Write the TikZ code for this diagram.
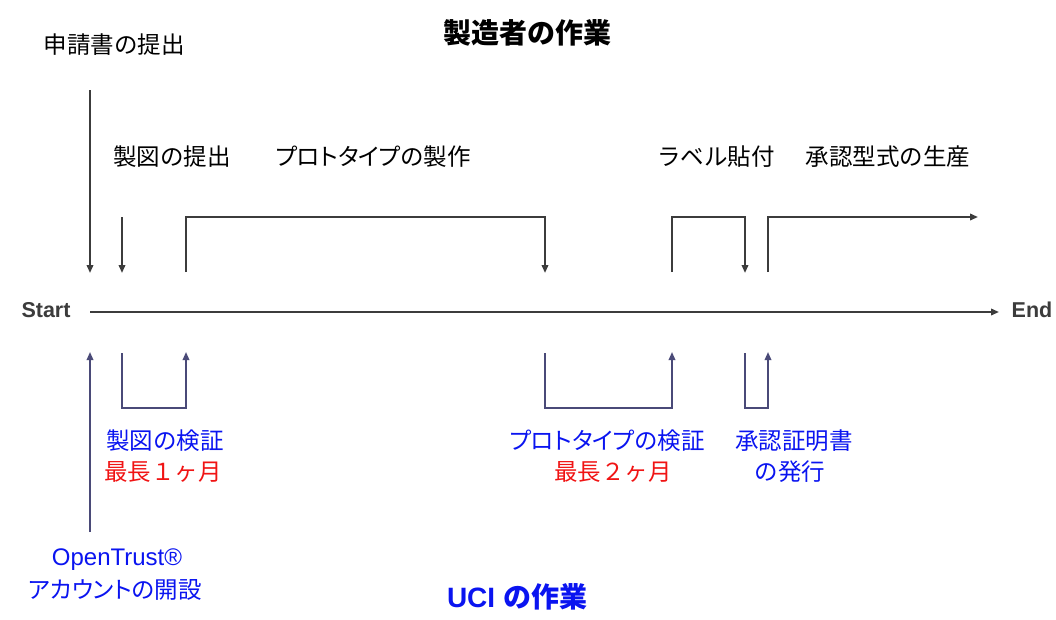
\documentclass[tikz,border=0pt]{standalone}
\usepackage{fontspec}
\usetikzlibrary{arrows.meta}
\newfontfamily\cjk{Noto Sans CJK JP}
\newfontfamily\cjkp[RawFeature=+palt]{Noto Sans CJK JP}
\newfontfamily\lat{Liberation Sans}
\definecolor{topline}{HTML}{3C3C3C}
\definecolor{botline}{HTML}{4A4A78}
\definecolor{ublue}{HTML}{0A14F0}
\definecolor{ured}{HTML}{F01414}
\tikzset{
  lbl/.style={inner sep=0pt, font=\cjk\fontsize{23.5}{26}\selectfont, text=black},
  plbl/.style={inner sep=0pt, font=\cjkp\fontsize{23.5}{26}\selectfont, text=black},
  blbl/.style={lbl, text=ublue},
  rlbl/.style={lbl, text=ured},
  ttl/.style={inner sep=0pt, font=\cjk\bfseries\fontsize{28}{30}\selectfont},
  tline/.style={draw=topline, line width=1.9pt},
  bline/.style={draw=botline, line width=1.7pt},
  tip/.style={-{Triangle[length=8pt,width=6.5pt]}},
  axis/.style={inner sep=0pt, font=\lat\bfseries\fontsize{21.5}{24}\selectfont, text=topline}
}
\begin{document}
\begin{tikzpicture}[x=1pt,y=-1pt]
\useasboundingbox (0,0) rectangle (1056,619);
% titles
\node[ttl] (mtitle) at (527,33) {製造者の作業};
\node[ttl, text=ublue] (utitle) at (517,597) {\lat\bfseries UCI \cjk\bfseries の作業};
% top labels
\node[lbl] (apply) at (114,45) {申請書の提出};
\node[lbl] (draw) at (172,157) {製図の提出};
\node[plbl] (proto) at (373,157) {プロトタイプの製作};
\node[lbl] (label) at (716,157) {ラベル貼付};
\node[lbl] (prod) at (888,157) {承認型式の生産};
% axis
\node[axis] (start) at (46,310) {Start};
\node[axis] (end) at (1032,310) {End};
\coordinate (ax0) at (90,312);
\coordinate (ax1) at (999,312);
\draw[tline, tip] (ax0) -- (ax1);
% top connectors
\coordinate (a0) at (90,90);   \coordinate (a1) at (90,273);
\draw[tline, tip] (a0) -- (a1);
\coordinate (b0) at (122,217); \coordinate (b1) at (122,273);
\draw[tline, tip] (b0) -- (b1);
\coordinate (c0) at (186,272); \coordinate (c1) at (545,273);
\draw[tline, tip] (c0) |- (545,217) -- (c1);
\coordinate (d0) at (672,272); \coordinate (d1) at (745,273);
\draw[tline, tip] (d0) |- (745,217) -- (d1);
\coordinate (e0) at (768,272); \coordinate (e1) at (978,217);
\draw[tline, tip] (e0) |- (e1);
% bottom connectors
\coordinate (f0) at (90,532); \coordinate (f1) at (90,352);
\draw[bline, tip] (f0) -- (f1);
\coordinate (g0) at (122,353); \coordinate (g1) at (186,352);
\draw[bline, tip] (g0) |- (186,408) -- (g1);
\coordinate (h0) at (545,353); \coordinate (h1) at (672,352);
\draw[bline, tip] (h0) |- (672,408) -- (h1);
\coordinate (i0) at (745,353); \coordinate (i1) at (768,352);
\draw[bline, tip] (i0) |- (768,408) -- (i1);
% bottom labels
\node[blbl] (chk1) at (165,441) {製図の検証};
\node[rlbl] (max1) at (163,472) {最長１ヶ月};
\node[plbl, text=ublue] (chk2) at (607,441) {プロトタイプの検証};
\node[rlbl] (max2) at (613,472) {最長２ヶ月};
\node[blbl] (cert1) at (794,441) {承認証明書};
\node[blbl] (cert2) at (790,472) {の発行};
\node[blbl] (ot1) at (117,560) {\lat\fontsize{24}{26}\selectfont OpenTrust®};
\node[plbl, text=ublue] (ot2) at (115,590) {アカウントの開設};
\end{tikzpicture}
\end{document}
